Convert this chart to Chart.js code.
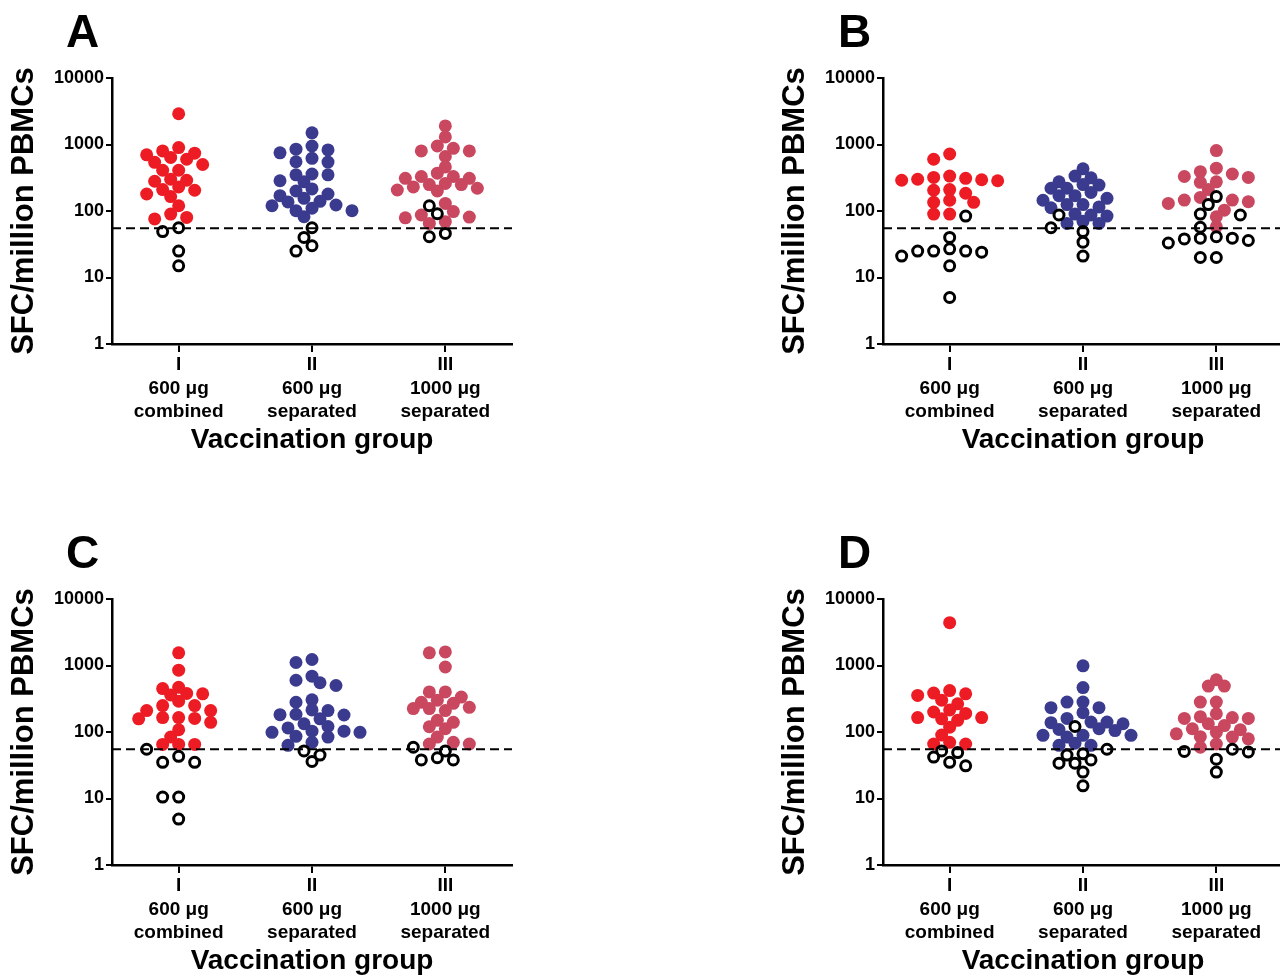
<!DOCTYPE html>
<html><head><meta charset="utf-8">
<script src="https://cdn.jsdelivr.net/npm/chart.js@4.4.1/dist/chart.umd.min.js"></script>
<style>
html,body{margin:0;padding:0;background:#fff;overflow:hidden;}
#wrap{position:relative;width:1280px;height:978px;overflow:hidden;background:#fff;}
.panel{position:absolute;width:520px;height:457px;}
.letter{position:absolute;font-family:'Liberation Sans',Arial,sans-serif;font-weight:bold;font-size:46px;line-height:46px;color:#000;}
</style></head><body>
<div id="wrap">
  <div class="panel" style="left:0px;top:0px"><canvas id="cA" width="520" height="457"></canvas></div>
  <div class="panel" style="left:771px;top:0px"><canvas id="cB" width="520" height="457"></canvas></div>
  <div class="panel" style="left:0px;top:521px"><canvas id="cC" width="520" height="457"></canvas></div>
  <div class="panel" style="left:771px;top:521px"><canvas id="cD" width="520" height="457"></canvas></div>
  <div class="letter" style="left:66px;top:8px">A</div>
  <div class="letter" style="left:838px;top:8px">B</div>
  <div class="letter" style="left:66px;top:529px">C</div>
  <div class="letter" style="left:838px;top:529px">D</div>
</div>
<script>
// ---------- labels ----------
const GROUP_NUMERALS = ['I', 'II', 'III'];
const GROUP_DOSES = ['600 μg', '600 μg', '1000 μg'];
const GROUP_REGIMENS = ['combined', 'separated', 'separated'];
const Y_TICK_VALUES = [1, 10, 100, 1000, 10000];
const Y_TITLE = 'SFC/million PBMCs';
const X_TITLE = 'Vaccination group';
const CUTOFF = 55;

// ---------- data: responders (filled) and non-responders (open) ----------
const A_I_pos   = [2900,900,800,740,700,640,600,540,500,410,410,300,290,280,230,210,205,180,165,120,90,80,76];
const A_I_neg   = [56,49,25,15];
const A_II_pos  = [1500,950,850,830,750,620,550,545,360,350,350,285,275,215,200,180,170,155,140,137,123,120,110,101,101,82];
const A_II_neg  = [56,40,30,25];
const A_III_pos = [1900,1300,950,875,800,800,660,460,370,330,330,310,310,260,250,250,230,220,207,200,130,98,87,81,79,69,65];
const A_III_neg = [120,91,46,41];

const B_I_pos   = [720,600,335,320,310,300,295,290,285,210,205,185,145,135,135,90,90];
const B_I_neg   = [84,40,27,25,25,25,24,21,15,5];
const B_II_pos  = [430,335,315,275,250,245,220,220,190,170,170,155,145,125,125,115,112,90,87,84,70,65,65];
const B_II_neg  = [87,56,49,34,21];
const B_III_pos = [810,440,390,360,330,320,275,270,210,160,146,146,138,130,103,82,58];
const B_III_neg = [165,125,90,87,57,41,39,39,38,36,33,20,20];

const C_I_pos   = [1550,850,470,450,380,375,360,290,250,250,210,210,165,165,160,158,140,108,84,65,65,65];
const C_I_neg   = [55,43,35,35,10.5,10.5,4.9];
const C_II_pos  = [1230,1110,690,600,550,500,305,280,215,210,185,182,180,158,133,121,115,103,103,99,99,86,84,70,63];
const C_II_neg  = [52,45,36];
const C_III_pos = [1600,1550,950,400,400,335,300,280,270,235,225,225,210,150,140,120,112,84,70,66,66];
const C_III_neg = [59,52,41,38,38];

const D_I_pos   = [4400,420,385,375,355,300,265,215,200,190,165,165,158,150,118,90,70,66,66];
const D_I_neg   = [52,49,42,35,31];
const D_II_pos  = [990,465,282,282,232,232,195,160,141,141,138,133,112,109,105,89,89,89,84,68,63,63];
const D_II_neg  = [121,55,47,45,38,34,34,25,15.5];
const D_III_pos = [610,490,490,282,282,188,170,165,160,160,133,125,112,108,99,94,85,84,79,66,59];
const D_III_neg = [55,51,50,39,25];

const PANELS = [
  {id: 'cA', pos: [A_I_pos, A_II_pos, A_III_pos], neg: [A_I_neg, A_II_neg, A_III_neg]},
  {id: 'cB', pos: [B_I_pos, B_II_pos, B_III_pos], neg: [B_I_neg, B_II_neg, B_III_neg]},
  {id: 'cC', pos: [C_I_pos, C_II_pos, C_III_pos], neg: [C_I_neg, C_II_neg, C_III_neg]},
  {id: 'cD', pos: [D_I_pos, D_II_pos, D_III_pos], neg: [D_I_neg, D_II_neg, D_III_neg]}
];

// ---------- styling ----------
const GROUP_COLORS = ['#ED1C24', '#3A3B8E', '#C9475F'];
const FONT = "'Liberation Sans', Arial, Helvetica, sans-serif";
const PX_PER_DECADE = 266 / 4;
const PX_PER_GROUP = 400 / 3;
const STEP = 8, MIN_DIST = 10;

// simple column-scatter (beeswarm) spreading of points with similar values
function swarm(pos, neg) {
  const items = pos.map(v => ({v, open: false})).concat(neg.map(v => ({v, open: true})));
  items.forEach(it => it.py = Math.log10(it.v) * PX_PER_DECADE);
  items.sort((a, b) => b.v - a.v);
  const placed = [];
  items.forEach(it => {
    for (let k = 0; k < 80; k++) {
      const off = (k % 2 ? -1 : 1) * Math.ceil(k / 2) * STEP;
      if (placed.every(p => Math.hypot(p.px - off, p.py - it.py) >= MIN_DIST)) { it.px = off; break; }
    }
    placed.push(it);
  });
  return items;
}

const cutoffLine = {
  id: 'cutoffLine',
  afterDatasetsDraw(chart) {
    const ctx = chart.ctx;
    const y = chart.scales.y.getPixelForValue(CUTOFF);
    const {left, right} = chart.chartArea;
    ctx.save();
    ctx.setLineDash([9, 5]);
    ctx.lineWidth = 2;
    ctx.strokeStyle = '#000';
    ctx.beginPath();
    ctx.moveTo(left, y);
    ctx.lineTo(right, y);
    ctx.stroke();
    ctx.restore();
  }
};

Chart.defaults.font.family = FONT;
Chart.defaults.color = '#000';

PANELS.forEach(panel => {
  const datasets = [];
  const openPts = [];
  panel.pos.forEach((vals, g) => {
    const items = swarm(vals, panel.neg[g]);
    const filled = [];
    items.forEach(it => {
      const pt = {x: g + it.px / PX_PER_GROUP, y: it.v};
      (it.open ? openPts : filled).push(pt);
    });
    datasets.push({
      data: filled, order: 1,
      pointRadius: 6.5, pointHoverRadius: 6.5, pointBorderWidth: 0,
      pointBackgroundColor: GROUP_COLORS[g], pointBorderColor: GROUP_COLORS[g]
    });
  });
  datasets.unshift({
    data: openPts, order: 0,
    pointRadius: 5, pointHoverRadius: 5, pointBorderWidth: 3,
    pointBackgroundColor: '#fff', pointBorderColor: '#000'
  });

  new Chart(document.getElementById(panel.id), {
    type: 'scatter',
    data: {datasets},
    plugins: [cutoffLine],
    options: {
      responsive: false, animation: false, devicePixelRatio: 1,
      layout: {padding: {top: 78, left: 0, right: 0, bottom: 0}},
      plugins: {legend: {display: false}, tooltip: {enabled: false}},
      scales: {
        x: {
          type: 'linear', min: -0.5, max: 2.5,
          afterBuildTicks: s => { s.ticks = [0, 1, 2].map(v => ({value: v})); },
          afterFit: s => { s.height = 113; s.paddingLeft = 0; s.paddingRight = 0; },
          grid: {display: true, drawOnChartArea: false, drawTicks: true, tickLength: 8, color: '#000', lineWidth: 2},
          border: {display: true, color: '#000', width: 2.5},
          ticks: {
            autoSkip: false, maxRotation: 0, padding: 1,
            font: {size: 19, weight: 'bold', lineHeight: 1.24},
            callback: (v) => [GROUP_NUMERALS[v], GROUP_DOSES[v], GROUP_REGIMENS[v]]
          },
          title: {display: true, text: X_TITLE, font: {size: 28, weight: 'bold', lineHeight: 1.2}, padding: {top: 0, bottom: 0}}
        },
        y: {
          type: 'logarithmic', min: 1, max: 10000,
          afterBuildTicks: s => { s.ticks = Y_TICK_VALUES.map(v => ({value: v, major: true})); },
          afterFit: s => { s.width = 112; s.paddingTop = 0; s.paddingBottom = 0; },
          grid: {display: true, drawOnChartArea: false, drawTicks: true, tickLength: 6, color: '#000', lineWidth: 2},
          border: {display: true, color: '#000', width: 2.5},
          ticks: {
            padding: 2, font: {size: 18, weight: 'bold'},
            callback: (v) => String(v)
          },
          title: {display: true, text: Y_TITLE, font: {size: 31, weight: 'bold', lineHeight: 1.2}, padding: {top: 6, bottom: 0}}
        }
      }
    }
  });
});
</script>
</body></html>
